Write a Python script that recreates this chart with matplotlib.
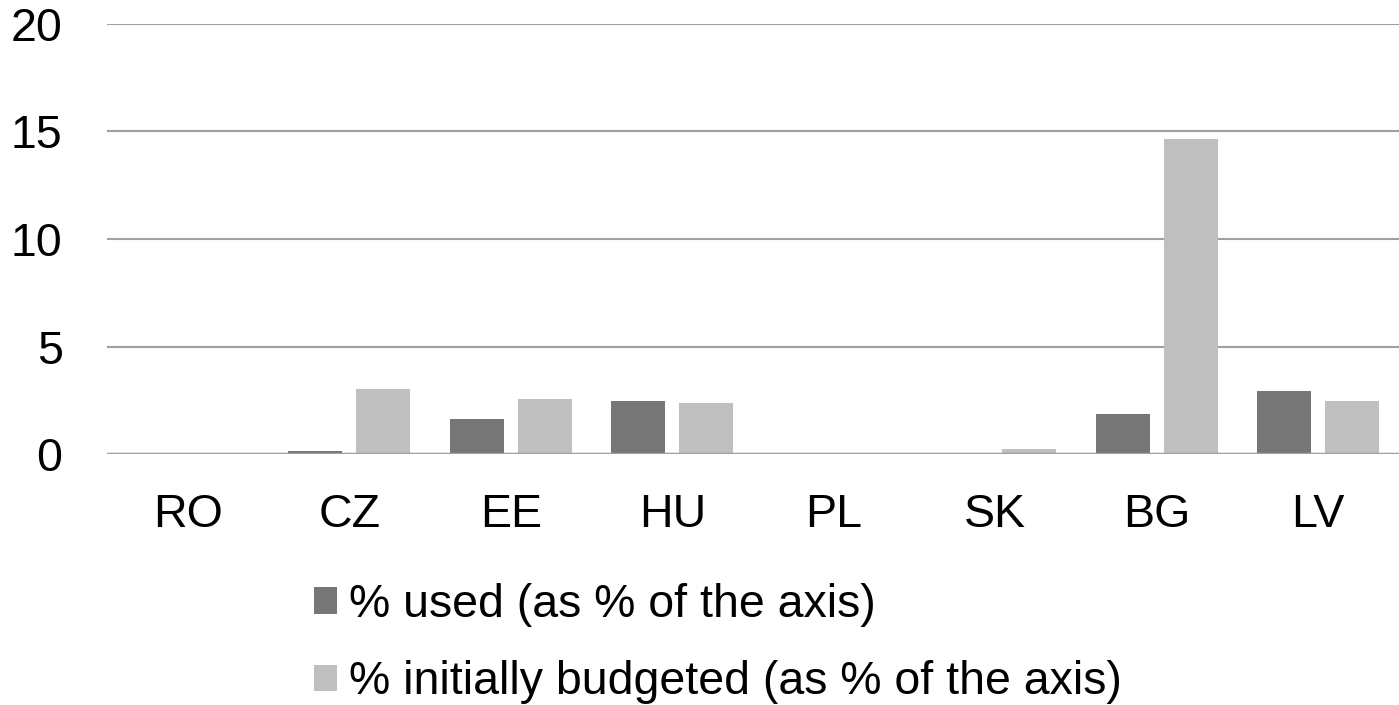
import matplotlib.pyplot as plt
import numpy as np

plt.rcParams['font.family'] = ['Liberation Sans', 'DejaVu Sans']

pays = ["RO", "CZ", "EE", "HU", "PL", "SK", "BG", "LV"]
used = [0.0, 0.12, 1.63, 2.48, 0.0, 0.03, 1.84, 2.93]
budget = [0.0, 3.03, 2.56, 2.37, 0.0, 0.24, 14.64, 2.48]

fig = plt.figure(figsize=(13.99, 7.05), dpi=100)
ax = fig.add_axes([0.0765, 0.356, 0.9235, 0.61])

x = np.arange(len(pays))
w = 0.334
ax.bar(x - w / 2 - 0.043, used, w, color="#767676", label="% used (as % of the axis)", zorder=3)
ax.bar(x + w / 2 + 0.043, budget, w, color="#bfbfbf", label="% initially budgeted (as % of the axis)", zorder=3)

ax.set_xlim(-0.5, len(pays) - 0.5)
ax.set_ylim(0, 20)
ax.set_yticks([0, 5, 10, 15, 20])
ax.set_xticks(x)
ax.set_xticklabels(pays)
ax.yaxis.grid(True, color="#a0a0a0", linewidth=1.5, zorder=0)
ax.axhline(0, color="#a0a0a0", linewidth=2.5, zorder=4)
for s in ax.spines.values():
    s.set_visible(False)
ax.tick_params(axis="both", length=0, labelsize=33.5, colors="black")
ax.tick_params(axis="y", pad=32)
ax.tick_params(axis="x", pad=28)

fig.legend(loc="center", bbox_to_anchor=(0.513, 0.087), ncol=1, frameon=False,
           fontsize=33.5, handlelength=0.5, handleheight=0.5, handletextpad=0.25,
           labelspacing=0.72, alignment="left", borderpad=0)

fig.savefig("out.png", dpi=100)
